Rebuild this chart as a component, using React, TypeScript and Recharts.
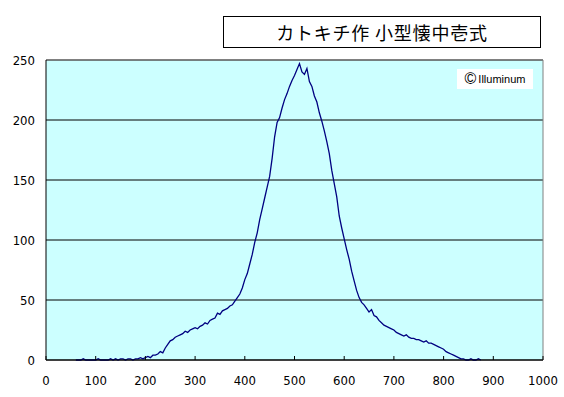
import React from 'react';
import { LineChart, Line, XAxis, YAxis, CartesianGrid, ReferenceLine } from 'recharts';

// x positions (step 5) and counts
const xStart = 60;
const xStep = 5;
const counts = [
  0, 0, 0, 1, 0, 0, 0, 0, 0, 1, 0, 0, 0, 0, 1, 0, 1, 0, 1, 1,
  0, 1, 1, 0, 1, 1, 2, 1, 2, 3, 2, 4, 4, 5, 7, 6, 10, 13, 16, 17,
  19, 20, 21, 22, 24, 23, 25, 26, 27, 26, 28, 29, 31, 30, 33, 34, 35, 39, 38, 41,
  42, 43, 45, 46, 49, 52, 55, 60, 67, 72, 80, 88, 98, 106, 117, 126, 135, 144, 153, 168,
  186, 198, 202, 210, 217, 222, 228, 233, 237, 242, 247, 240, 238, 243, 232, 228, 220, 215, 206, 199,
  191, 182, 172, 158, 147, 136, 120, 110, 101, 92, 84, 74, 66, 58, 52, 48, 46, 43, 40, 42,
  37, 36, 33, 31, 29, 28, 27, 26, 25, 23, 22, 21, 20, 21, 19, 18, 18, 17, 17, 16,
  15, 16, 14, 14, 13, 12, 11, 10, 9, 7, 6, 5, 4, 3, 2, 1, 1, 0, 0, 1,
  0, 0, 1, 0,
];
const xTicks = [0, 100, 200, 300, 400, 500, 600, 700, 800, 900, 1000];
const yTicks = [0, 50, 100, 150, 200, 250];

const data = counts.map((v, i) => ({ x: xStart + i * xStep, v }));

const tickFont = "'Liberation Sans Narrow', 'DejaVu Sans Condensed', 'Liberation Sans', sans-serif";

const XTick = (props: any) => {
  const { x, y, payload } = props;
  return (
    <g>
      <line x1={x} y1={y} x2={x} y2={y - 4} stroke="#000" />
      <text x={x} y={y + 25} textAnchor="middle" fontSize={13} fontFamily={tickFont} fill="#000">
        {payload.value}
      </text>
    </g>
  );
};

const App = () => {
  return (
    <div style={{ position: 'absolute', left: 0, top: 0, width: 564, height: 397, background: '#fff' }}>
      <LineChart width={564} height={397} data={data} margin={{ top: 60, right: 21, left: 0, bottom: 0 }}>
        <CartesianGrid vertical={false} stroke="#000" fill="#CCFFFF" />
        <XAxis
          dataKey="x"
          type="number"
          domain={[0, 1000]}
          ticks={xTicks}
          height={37}
          axisLine={{ stroke: '#000' }}
          tickLine={false}
          tickSize={0}
          tickMargin={0}
          tick={<XTick />}
        />
        <YAxis
          domain={[0, 250]}
          ticks={yTicks}
          width={46}
          axisLine={{ stroke: '#000' }}
          tickLine={false}
          tickSize={0}
          tickMargin={11}
          tick={{ fill: '#000', fontSize: 13, fontFamily: tickFont }}
        />
        <ReferenceLine y={250} stroke="#808080" />
        <ReferenceLine x={1000} stroke="#808080" />
        <Line
          type="linear"
          dataKey="v"
          stroke="#000080"
          strokeWidth={1.3}
          dot={false}
          isAnimationActive={false}
        />
      </LineChart>
      <div
        style={{
          position: 'absolute',
          left: 223,
          top: 16,
          width: 316,
          height: 30,
          border: '1px solid #000',
          background: '#fff',
          display: 'flex',
          alignItems: 'center',
          justifyContent: 'center',
          fontFamily: "'Noto Sans CJK JP', sans-serif",
          fontSize: 18,
          letterSpacing: 0.8,
          color: '#000',
        }}
      >
        カトキチ作 小型懐中壱式
      </div>
      <div
        style={{
          position: 'absolute',
          left: 457,
          top: 69,
          width: 76,
          height: 20,
          background: '#fff',
          display: 'flex',
          alignItems: 'center',
          justifyContent: 'center',
          fontFamily: "'Liberation Sans', Arial, sans-serif",
          fontSize: 11,
          color: '#000',
        }}
      >
        <span style={{ fontSize: 16, marginRight: 2, lineHeight: '16px' }}>©</span>
        Illuminum
      </div>
    </div>
  );
};

export default App;
